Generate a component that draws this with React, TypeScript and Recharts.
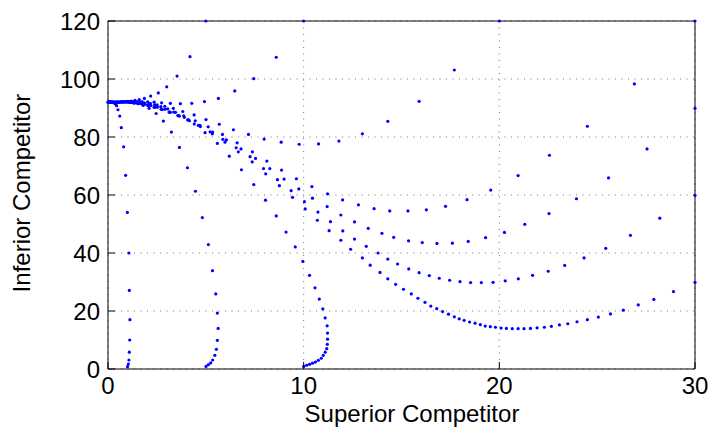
import { ScatterChart, Scatter, XAxis, YAxis, CartesianGrid, ReferenceLine } from 'recharts'

// Each array is one trajectory, as [superior, inferior] pairs
const fromBottom1 = [
  [1.0, 0.8], [1.04, 1.7], [1.07, 3.1], [1.09, 5.8], [1.11, 10], [1.12, 17], [1.09, 27.1], [1.07, 40],
  [0.99, 54], [0.9, 66.8], [0.8, 76.6], [0.68, 83.2], [0.6, 87.2], [0.51, 89.4], [0.44, 90.8], [0.38, 91.4],
  [0.32, 91.7], [0.27, 91.9], [0.22, 92], [0.18, 92], [0.14, 92], [0.1, 92], [0.06, 92], [0.03, 92],
]

const fromBottom5 = [
  [5.01, 0.9], [5.13, 1.5], [5.25, 2.1], [5.35, 3.1], [5.46, 4.7], [5.54, 6.8], [5.59, 9.9], [5.63, 14.0],
  [5.59, 19.3], [5.51, 25.9], [5.34, 33.9], [5.13, 42.9], [4.82, 52.2], [4.47, 61.3], [4.06, 69.4], [3.65, 76.4],
  [3.24, 81.7], [2.83, 85.5], [2.46, 88.1], [2.1, 89.9], [1.8, 90.9], [1.54, 91.5], [1.31, 91.8], [1.12, 92],
  [0.95, 92.1], [0.8, 92.1], [0.67, 92.1], [0.56, 92], [0.46, 92], [0.37, 92], [0.29, 92], [0.22, 92],
  [0.16, 92], [0.11, 92], [0.07, 92], [0.04, 92], [0.01, 92],
]

const fromBottom10 = [
  [10.0, 0.9], [10.15, 1.3], [10.3, 1.6], [10.45, 2.0], [10.6, 2.4], [10.75, 3.0], [10.9, 3.7], [11.0, 4.7],
  [11.1, 5.8], [11.18, 7.0], [11.21, 8.5], [11.22, 10.3], [11.22, 12.4], [11.2, 14.9], [11.1, 17.6], [10.98, 20.7],
  [10.8, 24.1], [10.58, 28], [10.3, 32.3], [9.96, 37.1], [9.57, 42.1], [9.1, 47.2], [8.6, 52.8], [8.05, 58.2],
  [7.45, 63.6], [6.82, 68.7], [6.2, 73.4], [5.59, 77.8], [4.96, 81.5], [4.41, 84.5], [3.9, 86.8], [3.45, 88.5],
  [3.05, 89.7], [2.7, 90.5], [2.38, 91.1], [2.1, 91.5], [1.85, 91.7], [1.63, 91.9], [1.43, 92], [1.26, 92.1],
  [1.1, 92.1],
]

const fromTop5 = [
  [5, 120], [4.19, 107.7], [3.53, 101], [3.0, 97.3], [2.57, 95.2], [2.18, 94.1], [1.86, 93.3], [1.6, 92.9],
  [1.38, 92.6], [1.19, 92.4], [1.02, 92.3], [0.88, 92.2], [0.75, 92.1], [0.64, 92.1], [0.54, 92], [0.45, 92],
  [0.37, 92], [0.3, 92], [0.24, 92], [0.19, 92], [0.14, 92], [0.09, 92], [0.05, 92], [0, 92],
]

const fromTop10 = [
  [10, 120], [8.6, 107.5], [7.45, 100.1], [6.48, 95.9], [5.64, 93.3], [4.93, 92.2], [4.28, 91.6], [3.7, 91.5],
  [3.19, 91.6], [2.74, 91.8], [2.36, 92], [2.03, 92.1], [1.74, 92.2], [1.49, 92.2], [1.28, 92.2], [1.1, 92.2],
  [0.94, 92.1], [0.81, 92.1], [0.7, 92.1], [0.6, 92], [0.51, 92], [0.43, 92],
]

const fromTop20 = [
  [20, 120], [17.7, 103.1], [15.9, 92.3], [14.3, 85.4], [13.0, 81.1], [11.8, 78.6], [10.76, 77.6], [9.77, 77.5],
  [8.85, 78.2], [7.98, 79.3], [7.18, 80.9], [6.41, 82.5], [5.69, 84.4], [5.01, 86], [4.4, 87.6], [3.82, 88.8],
  [3.34, 89.9], [2.9, 90.6], [2.51, 91.1], [2.17, 91.5], [1.87, 91.7], [1.61, 91.9], [1.39, 92], [1.2, 92],
  [1.03, 92.1], [0.89, 92.1], [0.76, 92.1],
]

const fromRight120 = [
  [30, 120], [26.9, 98.3], [24.5, 83.7], [22.56, 73.7], [20.96, 66.7], [19.56, 61.7], [18.35, 58.4], [17.25, 56.1],
  [16.27, 54.9], [15.33, 54.5], [14.4, 54.5], [13.6, 55.3], [12.8, 56.6], [11.99, 58.3], [11.22, 60.4], [10.42, 62.9],
  [9.63, 65.6], [8.87, 68.6], [8.12, 71.7], [7.38, 74.9], [6.6, 78], [5.85, 80.9], [5.12, 83.5], [4.46, 85.6],
  [3.87, 87.3], [3.36, 88.6], [2.92, 89.6], [2.53, 90.3], [2.19, 90.9], [1.9, 91.3], [1.64, 91.6], [1.42, 91.8],
  [1.22, 91.9], [1.05, 92],
]

const fromRight90 = [
  [30, 89.9], [27.55, 75.9], [25.58, 65.9], [23.94, 58.7], [22.54, 53.6], [21.3, 49.9], [20.26, 47.1], [19.3, 45.3],
  [18.41, 44.0], [17.6, 43.4], [16.81, 43.3], [16.06, 43.6], [15.36, 44.2], [14.6, 45.4], [14.0, 46.8], [13.3, 48.5],
  [12.6, 50.7], [11.9, 53.1], [11.2, 56.0], [10.45, 58.9], [9.75, 62.1], [9.0, 65.5], [8.27, 69.1], [7.54, 72.6],
  [6.8, 75.9], [6.05, 79], [5.35, 81.7], [4.7, 84], [4.12, 85.9], [3.6, 87.4], [3.14, 88.6], [2.73, 89.6],
  [2.37, 90.3], [2.05, 90.9], [1.77, 91.3], [1.53, 91.6], [1.32, 91.8], [1.14, 91.9],
]

const fromRight60 = [
  [30, 59.9], [28.2, 52], [26.7, 46.1], [25.44, 41.6], [24.33, 38.3], [23.34, 35.7], [22.5, 33.7], [21.7, 32.3],
  [20.97, 31.1], [20.3, 30.4], [19.68, 29.9], [19.08, 29.8], [18.53, 29.8], [17.99, 30.1], [17.46, 30.6], [16.93, 31.3],
  [16.42, 32.2], [15.9, 33.2], [15.37, 34.5], [14.8, 36.2], [14.3, 37.9], [13.8, 40], [13.2, 42.3], [12.6, 44.8],
  [12.0, 47.6], [11.37, 50.8], [10.73, 54.1], [10.04, 57.7], [9.36, 61.5], [8.66, 65.3], [7.95, 69.1], [7.26, 73.2],
  [6.55, 76.3], [5.87, 79.2], [5.22, 81.8], [4.62, 84], [4.07, 85.9], [3.57, 87.4], [3.12, 88.6], [2.72, 89.6],
  [2.36, 90.3], [2.04, 90.9], [1.76, 91.3], [1.52, 91.6], [1.31, 91.8], [1.13, 91.9],
]

const fromRight30 = [
  [30, 29.9], [28.9, 26.7], [27.9, 24.0], [27.1, 22.1], [26.34, 20.3], [25.68, 19.0], [25.06, 17.9], [24.5, 17.0],
  [23.97, 16.3], [23.5, 15.6], [23.07, 15.2], [22.66, 14.7], [22.3, 14.4], [21.93, 14.2], [21.59, 14.0], [21.26, 13.9],
  [20.96, 13.9], [20.66, 13.9], [20.36, 14.0], [20.09, 14.1], [19.8, 14.4], [19.54, 14.6], [19.28, 14.8], [19.03, 15.3],
  [18.76, 15.8], [18.48, 16.2], [18.2, 16.8], [17.95, 17.3], [17.7, 18.0], [17.4, 18.9], [17.1, 19.8], [16.8, 20.8],
  [16.5, 21.7], [16.2, 23.0], [15.84, 24.4], [15.5, 25.9], [15.1, 27.5], [14.7, 29.2], [14.3, 31.1], [13.9, 33.3],
  [13.4, 35.8], [13.0, 38.3], [12.4, 41.3], [11.9, 44.4], [11.3, 47.7], [10.7, 51.3], [10.08, 55.2], [9.43, 59.2],
  [8.76, 63.2], [8.06, 67.3], [7.37, 71.4], [6.66, 74.9], [5.98, 78.2], [5.33, 81.1], [4.72, 83.6], [4.16, 85.6],
  [3.65, 87.2], [3.19, 88.5], [2.78, 89.5], [2.41, 90.3], [2.09, 90.9], [1.8, 91.3], [1.55, 91.6], [1.34, 91.8],
  [1.15, 91.9],
]

const trajectories = [
  fromBottom1, fromBottom5, fromBottom10, fromTop5, fromTop10, fromTop20,
  fromRight120, fromRight90, fromRight60, fromRight30,
]

const xTicks = [0, 10, 20, 30]
const yTicks = [0, 20, 40, 60, 80, 100, 120]

const FONT = '"Liberation Sans", Arial, Helvetica, sans-serif'
const DOT_BLUE = '#0000ff'
const TICK_LEN = 7

const Dot = (props: any) => <circle cx={props.cx} cy={props.cy} r={1.6} fill={DOT_BLUE} />

const BottomTick = ({ x, y, payload }: any) => (
  <g>
    <line x1={x} x2={x} y1={y} y2={y - TICK_LEN} stroke="#000" />
    <text x={x} y={y + 25} textAnchor="middle" fontSize={24} fontFamily={FONT} fill="#000">
      {payload.value}
    </text>
  </g>
)

const LeftTick = ({ x, y, payload }: any) => (
  <g>
    <line x1={x} x2={x + TICK_LEN} y1={y} y2={y} stroke="#000" />
    <text x={x - 8} y={y + 8.5} textAnchor="end" fontSize={24} fontFamily={FONT} fill="#000">
      {payload.value}
    </text>
  </g>
)

const TopTick = ({ x, y }: any) => <line x1={x} x2={x} y1={y} y2={y + TICK_LEN} stroke="#000" />
const RightTick = ({ x, y }: any) => <line x1={x} x2={x - TICK_LEN} y1={y} y2={y} stroke="#000" />

// axis titles, placed the way the original figure lays them out
const XTitle = () => (
  <text x={412} y={422} textAnchor="middle" fontSize={24} fontFamily={FONT} fill="#000">
    Superior Competitor
  </text>
)

const YTitle = () => (
  <text
    x={30}
    y={193}
    transform="rotate(-90 30 193)"
    textAnchor="middle"
    fontSize={24}
    fontFamily={FONT}
    fill="#000"
  >
    Inferior Competitor
  </text>
)

export default function App() {
  return (
    <div style={{ position: 'absolute', left: 0, top: 0, width: 715, height: 430, background: '#fff' }}>
      <ScatterChart width={715} height={430} margin={{ top: 21, right: 20, bottom: 0, left: 0 }}>
        <CartesianGrid stroke="#777" strokeDasharray="1 5.5" />
        <XAxis
          type="number"
          dataKey="x"
          domain={[0, 30]}
          ticks={xTicks}
          height={61}
          tickSize={0}
          tickMargin={0}
          tickLine={false}
          tick={<BottomTick />}
          axisLine={{ stroke: '#000' }}
          label={{ content: <XTitle /> }}
        />
        <XAxis
          xAxisId="top"
          orientation="top"
          type="number"
          domain={[0, 30]}
          ticks={xTicks}
          height={0}
          tickSize={0}
          tickMargin={0}
          tickLine={false}
          tick={<TopTick />}
          axisLine={{ stroke: '#000' }}
        />
        <YAxis
          type="number"
          dataKey="y"
          domain={[0, 120]}
          ticks={yTicks}
          width={108}
          tickSize={0}
          tickMargin={0}
          tickLine={false}
          tick={<LeftTick />}
          axisLine={{ stroke: '#000' }}
          label={{ content: <YTitle /> }}
        />
        <YAxis
          yAxisId="right"
          orientation="right"
          type="number"
          domain={[0, 120]}
          ticks={yTicks}
          width={0}
          tickSize={0}
          tickMargin={0}
          tickLine={false}
          tick={<RightTick />}
          axisLine={{ stroke: '#000' }}
        />
        <ReferenceLine y={120} stroke="#000" />
        <ReferenceLine x={30} stroke="#000" />
        {trajectories.map((pts, i) => (
          <Scatter
            key={i}
            data={pts.map(([x, y]) => ({ x, y }))}
            shape={<Dot />}
            isAnimationActive={false}
          />
        ))}
      </ScatterChart>
    </div>
  )
}
